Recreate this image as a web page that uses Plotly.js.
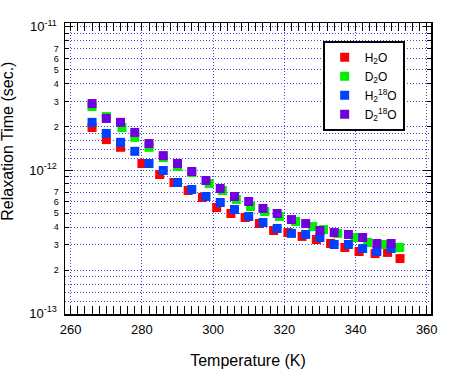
<!DOCTYPE html>
<html>
<head>
<meta charset="utf-8">
<script src="https://cdn.plot.ly/plotly-3.0.1.min.js"></script>
<style>html,body{margin:0;padding:0;background:#fff;}#chart{width:454px;height:369px;}</style>
</head>
<body>
<div id="chart"></div>
<script>
// ---- data ----
const seriesNames = ["H<sub>2</sub>O", "D<sub>2</sub>O", "H<sub>2</sub><sup>18</sup>O", "D<sub>2</sub><sup>18</sup>O"];
const seriesColors = ["#ff0000", "#00ee00", "#0040ff", "#7000dd"];

const tempH2O = [266, 270, 274, 280, 285, 289, 293, 297, 301, 305, 309, 313, 317, 321, 325, 329, 333, 337, 341, 345.5, 349, 352.5];
const tauH2O = [1.98e-12, 1.63e-12, 1.44e-12, 1.11e-12, 9.30e-13, 8.18e-13, 7.19e-13, 6.43e-13, 5.47e-13, 4.97e-13, 4.66e-13, 4.23e-13, 3.78e-13, 3.66e-13, 3.44e-13, 3.27e-13, 3.07e-13, 2.88e-13, 2.70e-13, 2.61e-13, 2.66e-13, 2.41e-13];

const tempD2O = [266, 270, 274.4, 278, 282, 286, 290, 294, 298.9, 302.6, 306.5, 310.5, 314.5, 318.6, 323.2, 328, 331, 335, 339.8, 343.4, 348.2, 352.4];
const tauD2O = [2.77e-12, 2.36e-12, 1.98e-12, 1.69e-12, 1.44e-12, 1.22e-12, 1.06e-12, 9.61e-13, 8.05e-13, 7.19e-13, 6.23e-13, 5.56e-13, 5.13e-13, 4.74e-13, 4.37e-13, 4.03e-13, 3.84e-13, 3.61e-13, 3.38e-13, 3.12e-13, 3.02e-13, 2.88e-13];

const tempH218O = [266, 270, 274, 278, 282, 286, 290, 294, 298, 302, 306, 310, 314, 318, 322, 326, 330, 334, 338, 342, 346, 350];
const tauH218O = [2.15e-12, 1.80e-12, 1.56e-12, 1.35e-12, 1.11e-12, 9.92e-13, 8.18e-13, 7.31e-13, 6.53e-13, 5.93e-13, 5.30e-13, 4.74e-13, 4.30e-13, 3.91e-13, 3.61e-13, 3.55e-13, 3.38e-13, 3.02e-13, 3.02e-13, 2.83e-13, 2.70e-13, 2.83e-13];

const tempD218O = [266, 270, 274, 278, 282, 286, 290, 294, 298, 302, 306, 310, 314, 318, 322, 326, 330, 334, 338, 342, 346, 350];
const tauD218O = [2.91e-12, 2.29e-12, 2.15e-12, 1.83e-12, 1.53e-12, 1.26e-12, 1.11e-12, 9.76e-13, 8.45e-13, 7.43e-13, 6.53e-13, 6.03e-13, 5.39e-13, 4.97e-13, 4.51e-13, 4.23e-13, 3.78e-13, 3.66e-13, 3.55e-13, 3.38e-13, 3.07e-13, 3.07e-13];

const xTickVals = [260, 280, 300, 320, 340, 360];
const yMajorVals = [1e-13, 1e-12, 1e-11];
const yMajorText = ["10<sup>-13</sup>", "10<sup>-12</sup>", "10<sup>-11</sup>"];
const yDigitVals = [2e-13, 3e-13, 4e-13, 5e-13, 6e-13, 7e-13, 2e-12, 3e-12, 4e-12, 5e-12, 6e-12, 7e-12];
const yDigitText = ["2", "3", "4", "5", "6", "7", "2", "3", "4", "5", "6", "7"];
const yUnlabelledTickVals = [8e-13, 9e-13, 8e-12, 9e-12];
const yFineGridVals = [1.2e-13, 1.4e-13, 1.6e-13, 1.8e-13, 1.2e-12, 1.4e-12, 1.6e-12, 1.8e-12]
  .concat(yDigitVals, yUnlabelledTickVals);

// ---- build chart ----
const temps = [tempH2O, tempD2O, tempH218O, tempD218O];
const taus = [tauH2O, tauD2O, tauH218O, tauD218O];
const traces = temps.map((t, i) => ({
  x: t, y: taus[i], type: "scatter", mode: "markers", name: seriesNames[i],
  marker: {symbol: "square", size: 9, color: seriesColors[i], line: {width: 0}}
}));

const FONT = "Liberation Sans, Arial, Helvetica, sans-serif";
const GRID = "#4848e0";
const yRange = [-13.005, -10.974];

const layout = {
  width: 454, height: 369,
  margin: {l: 65, r: 23, t: 23, b: 55, pad: 0},
  paper_bgcolor: "#fff", plot_bgcolor: "#fff",
  font: {family: FONT, color: "#000", size: 13},
  showlegend: true,
  legend: {
    x: 0.704, y: 0.939, xanchor: "left", yanchor: "top",
    bgcolor: "#fff", bordercolor: "#000", borderwidth: 2,
    font: {family: FONT, size: 12, color: "#000"}
  },
  xaxis: {
    range: [258.4, 361.2], tickmode: "array", tickvals: xTickVals,
    ticks: "inside", ticklen: 8, tickwidth: 1, tickcolor: "#000",
    showline: true, linecolor: "#000", linewidth: 1.5, mirror: "allticks",
    showgrid: true, gridcolor: GRID, gridwidth: 1, griddash: "1px,2px",
    zeroline: false, ticklabelstandoff: 3,
    tickfont: {family: FONT, size: 13, color: "#000"},
    minor: {dtick: 2, ticks: "inside", ticklen: 4, tickcolor: "#000", showgrid: false},
    title: {text: "Temperature (K)", font: {family: FONT, size: 16, color: "#000"}, standoff: 18}
  },
  yaxis: {
    type: "log", range: yRange, tickmode: "array", tickvals: yMajorVals, ticktext: yMajorText,
    ticks: "inside", ticklen: 8, tickwidth: 1, tickcolor: "#000",
    showline: true, linecolor: "#000", linewidth: 1.5, mirror: "allticks",
    showgrid: true, gridcolor: GRID, gridwidth: 1, griddash: "1px,2px",
    zeroline: false, ticklabelstandoff: 4,
    tickfont: {family: FONT, size: 13, color: "#000"},
    minor: {tickmode: "array", tickvals: yFineGridVals, ticks: "", showgrid: true,
            gridcolor: GRID, gridwidth: 1, griddash: "1px,2px"}
  },
  yaxis2: {
    type: "log", range: yRange, overlaying: "y", side: "left", anchor: "x",
    tickmode: "array", tickvals: yDigitVals, ticktext: yDigitText,
    ticks: "inside", ticklen: 4, tickwidth: 1, tickcolor: "#000",
    showline: true, linecolor: "#000", linewidth: 1.5, mirror: "allticks",
    showgrid: false, zeroline: false, ticklabelstandoff: 3,
    tickfont: {family: FONT, size: 9, color: "#000"},
    minor: {tickmode: "array", tickvals: yUnlabelledTickVals, ticks: "inside", ticklen: 4,
            tickcolor: "#000", showgrid: false}
  },
  annotations: [{
    text: "Relaxation Time (sec.)", textangle: -90,
    xref: "paper", yref: "paper", x: -0.156, y: 0.595,
    xanchor: "center", yanchor: "middle", showarrow: false,
    font: {family: FONT, size: 16, color: "#000"}
  }]
};

// invisible trace to activate yaxis2
traces.unshift({x: [300], y: [1e-12], yaxis: "y2", type: "scatter", mode: "markers",
  marker: {opacity: 0}, showlegend: false, hoverinfo: "skip"});

Plotly.newPlot("chart", traces, layout, {staticPlot: true, displayModeBar: false});
</script>
</body>
</html>
